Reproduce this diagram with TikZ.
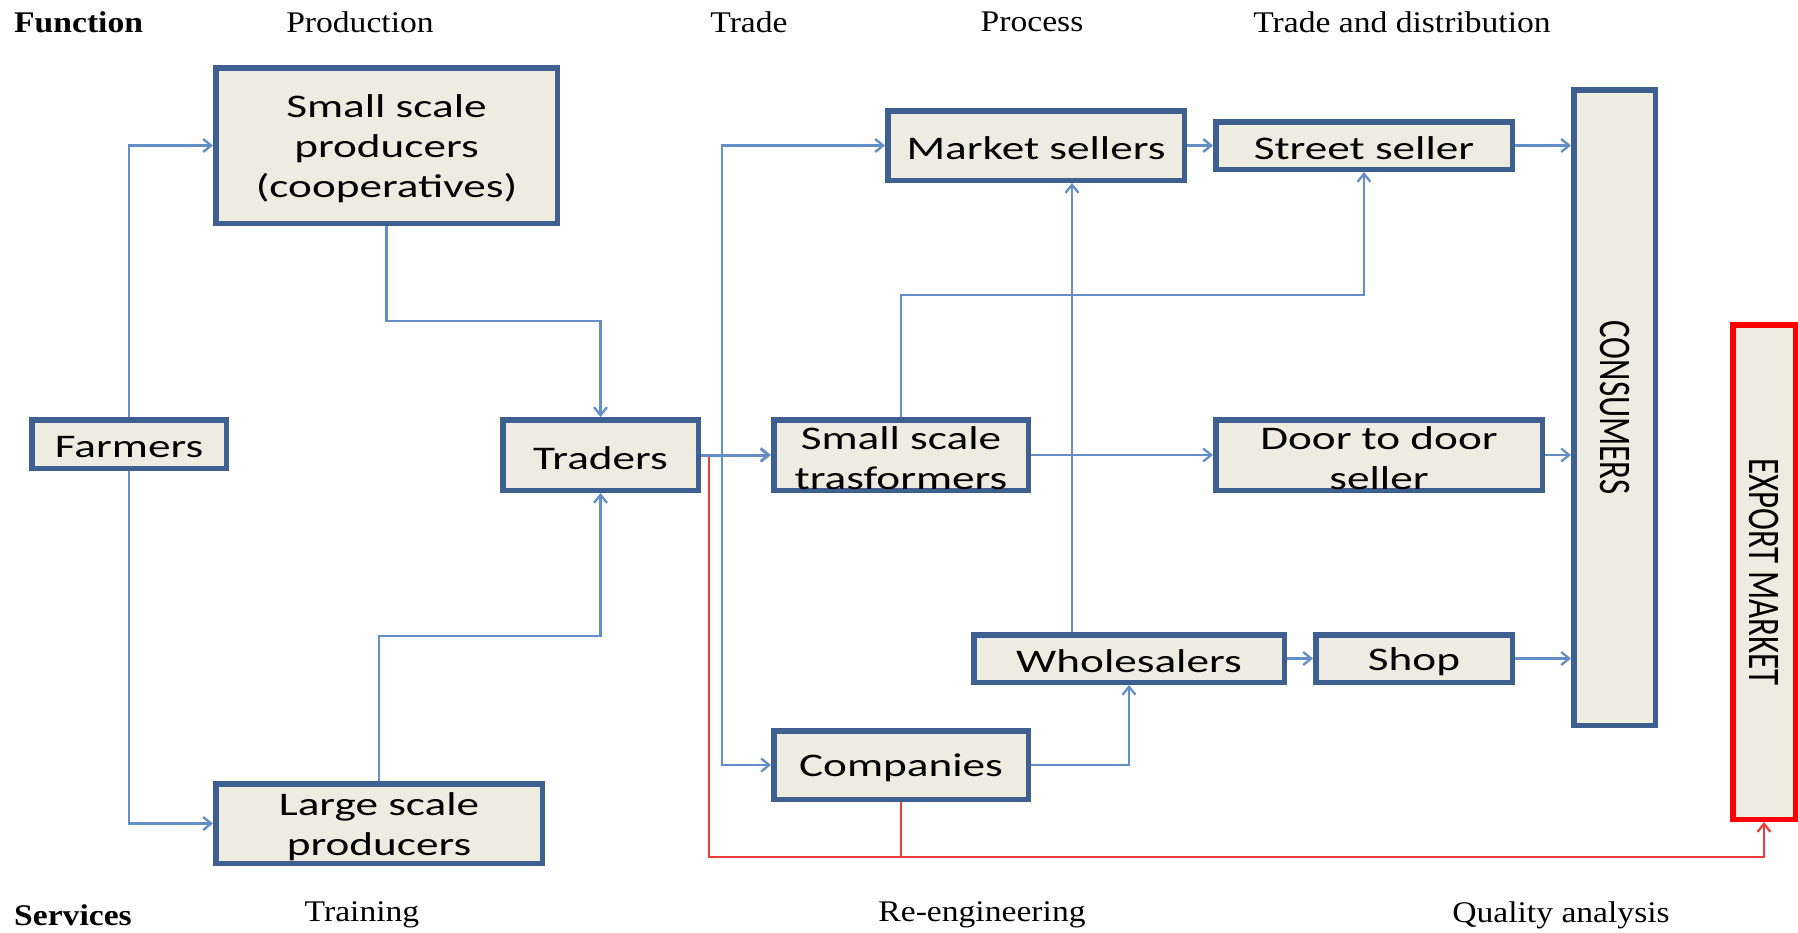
\documentclass[tikz,border=0pt]{standalone}
\usepackage{fontspec}
\usepackage{graphicx}
\setmainfont{Liberation Serif}
\newfontfamily\boxfont{Carlito}
\usetikzlibrary{arrows.meta}
\definecolor{bordc}{RGB}{62,96,145}
\definecolor{fillc}{RGB}{238,236,225}
\definecolor{linec}{RGB}{100,142,200}
\definecolor{redc}{RGB}{255,0,0}
\definecolor{redl}{RGB}{240,60,60}
\newcommand\sx[1]{\raisebox{-3pt}[\height][\depth]{\scalebox{1.37}[1]{#1}}}
\newcommand\hx[1]{\scalebox{1.12}[1]{#1}}
\begin{document}
\begin{tikzpicture}[x=1pt,y=-1pt,
 box/.style={draw=bordc, fill=fillc, line width=5.5pt, inner sep=0pt, align=center,
   font=\boxfont\fontsize{33}{40}\selectfont},
 head/.style={inner sep=0pt, font=\fontsize{30}{36}\selectfont},
 arr/.style={draw=linec, line width=2.3pt, -{Straight Barb[length=8pt,width=13pt]}},
 ln/.style={draw=linec, line width=2.3pt},
 redarr/.style={draw=redl, line width=2.3pt, -{Straight Barb[length=8pt,width=13pt]}},
 redln/.style={draw=redl, line width=2.3pt}]
\useasboundingbox (0,0) rectangle (1798,932);

% headings
\node[head, anchor=west] (hfun) at (14,22) {\hx{\bfseries Function}};
\node[head] (hprod) at (360,22) {\hx{Production}};
\node[head] (htrade) at (749,22) {\hx{Trade}};
\node[head] (hproc) at (1032,22) {\hx{Process}};
\node[head] (htd) at (1402,22) {\hx{Trade and distribution}};
\node[head, anchor=west] (hserv) at (14,915) {\hx{\bfseries Services}};
\node[head] (htrain) at (362,915) {\hx{Training}};
\node[head] (hre) at (982,915) {\hx{Re-engineering}};
\node[head] (hqa) at (1561,915) {\hx{Quality analysis}};

% boxes
\node[box, minimum width=341.5, minimum height=155.5] (ssp) at (386.5,145.5) {\sx{Small scale}\\\sx{producers}\\\sx{(cooperatives)}};
\node[box, minimum width=194.5, minimum height=48.5] (farm) at (129,444) {\sx{Farmers}};
\node[box, minimum width=195.5, minimum height=70.5] (trad) at (600.5,455) {\sx{Traders}};
\node[box, minimum width=326.5, minimum height=79.5] (lsp) at (379,823.5) {\sx{Large scale}\\\sx{producers}};
\node[box, minimum width=296.5, minimum height=69.5] (mkt) at (1036,145.5) {\sx{Market sellers}};
\node[box, minimum width=296.5, minimum height=47.5] (street) at (1364,145.5) {\sx{Street seller}};
\node[box, minimum width=254.5, minimum height=70.5] (sst) at (901,455) {\sx{Small scale}\\\sx{trasformers}};
\node[box, minimum width=326.5, minimum height=70.5] (door) at (1379,455) {\sx{Door to door}\\\sx{seller}};
\node[box, minimum width=310.5, minimum height=47.5] (whole) at (1129,658.5) {\sx{Wholesalers}};
\node[box, minimum width=196.5, minimum height=47.5] (shop) at (1414,658.5) {\sx{Shop}};
\node[box, minimum width=254.5, minimum height=68.5] (comp) at (901,765) {\sx{Companies}};
\node[box, minimum width=81.5, minimum height=635.5] (cons) at (1614.5,407.5) {\rotatebox{-90}{\scalebox{1}[1.37]{CONSUMERS}}};
\node[box, draw=redc, minimum width=62.5, minimum height=494.5, font=\boxfont\fontsize{33}{39}\selectfont] (exp) at (1764,572) {\rotatebox{-90}{\scalebox{1}[1.37]{EXPORT MARKET}}};

% connectors
\coordinate (j) at (722,455);
\coordinate (r) at (709,455);
\draw[arr] (farm.north) |- (ssp.west);
\draw[arr] (farm.south) |- (lsp.west);
\draw[arr] (ssp.south) -- (ssp.south |- 0,321) -| (trad.north);
\draw[arr] (lsp.north) -- (lsp.north |- 0,636) -| (trad.south);
\draw[redln] (comp.south) -- (comp.south |- 0,857);
\draw[redarr] (r) -- (709,857) -| (exp.south);
\draw[arr, line width=3pt] (trad.east) -- (sst.west);
\draw[arr] (j) |- (mkt.west);
\draw[arr] (j) |- (comp.west);
\draw[arr] (sst.north) -- (sst.north |- 0,295) -| (street.south);
\draw[arr] (whole.north -| 1072,0) -- (mkt.south -| 1072,0);
\draw[arr] (sst.east) -- (door.west);
\draw[arr] (comp.east) -| (whole.south);
\draw[arr] (whole.east) -- (shop.west);
\draw[arr] (mkt.east) -- (street.west);
\draw[arr] (street.east) -- (cons.west |- street.east);
\draw[arr] (door.east) -- (cons.west |- door.east);
\draw[arr] (shop.east) -- (cons.west |- shop.east);
\end{tikzpicture}
\end{document}
